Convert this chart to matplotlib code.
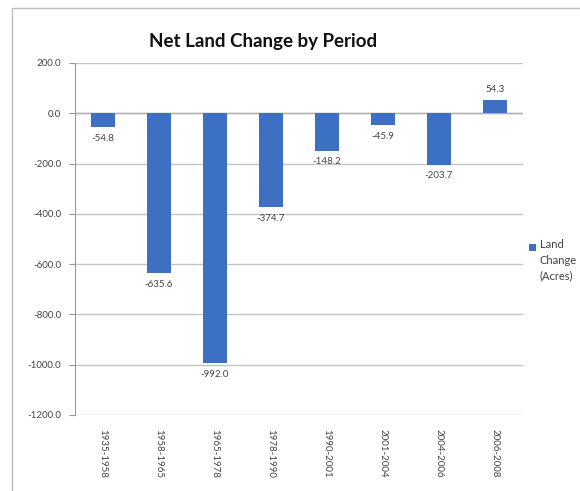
import matplotlib
matplotlib.use("Agg")
import matplotlib.pyplot as plt
from matplotlib.patches import Rectangle

plt.rcParams['font.family'] = ['Lato', 'DejaVu Sans']

periods = ["1935-1958", "1958-1965", "1965-1978", "1978-1990",
           "1990-2001", "2001-2004", "2004-2006", "2006-2008"]
land_change = [-54.8, -635.6, -992.0, -374.7, -148.2, -45.9, -203.7, 54.3]
y_ticks = [200, 0, -200, -400, -600, -800, -1000, -1200]

bar_color = "#3d6fc2"
grid_color = "#c4c4c4"
text_color = "#444444"

fig = plt.figure(figsize=(5.8, 4.91), dpi=100)
fig.patch.set_facecolor("white")

# outer chart frame (runs past the right and bottom edges)
fig.add_artist(Rectangle((12 / 580, -10 / 491), 600 / 580, (491 - 8 + 10) / 491,
                         transform=fig.transFigure, fill=False,
                         edgecolor="#bdbdbd", linewidth=1.0, clip_on=False))

ax = fig.add_axes([75 / 580, (491 - 415) / 491, 448 / 580, 352 / 491])
x = list(range(len(periods)))
bars = ax.bar(x, land_change, width=0.43, color=bar_color, zorder=3)

ax.set_xlim(-0.5, len(periods) - 0.5)
ax.set_ylim(-1200, 200)
ax.set_yticks(y_ticks)
ax.set_yticklabels([f"{v:.1f}" for v in y_ticks], fontsize=7, color=text_color)
ax.yaxis.grid(True, color=grid_color, linewidth=1.0, zorder=0)
ax.axhline(0, color="#b0b0b0", linewidth=1.0, zorder=2)

ax.set_xticks(x)
ax.set_xticklabels(periods, rotation=270, fontsize=7, color=text_color)
ax.tick_params(axis="x", length=0, pad=10)
ax.tick_params(axis="y", length=4, color="#999999", pad=6)

for side in ["top", "right", "bottom"]:
    ax.spines[side].set_visible(False)
ax.spines["left"].set_color("#999999")

for xi, v in zip(x, land_change):
    if v < 0:
        ax.annotate(f"{v:.1f}", (xi, v), xytext=(0, -5), textcoords="offset points",
                    ha="center", va="top", fontsize=7, color=text_color)
    else:
        ax.annotate(f"{v:.1f}", (xi, v), xytext=(0, 4), textcoords="offset points",
                    ha="center", va="bottom", fontsize=7, color=text_color)

fig.text(263 / 580, 1 - 42 / 491, "Net Land Change by Period", ha="center",
         va="center", fontsize=13.5, fontweight="bold", color="#111111")

# legend entry
fig.add_artist(Rectangle((529 / 580, 1 - 251 / 491), 7 / 580, 7 / 491,
                         transform=fig.transFigure, facecolor=bar_color,
                         edgecolor="none"))
fig.text(540 / 580, 1 - 239 / 491, "Land\nChange\n(Acres)", ha="left", va="top",
         fontsize=8, color=text_color, linespacing=1.5)

fig.savefig("out.png", dpi=100, facecolor="white")
